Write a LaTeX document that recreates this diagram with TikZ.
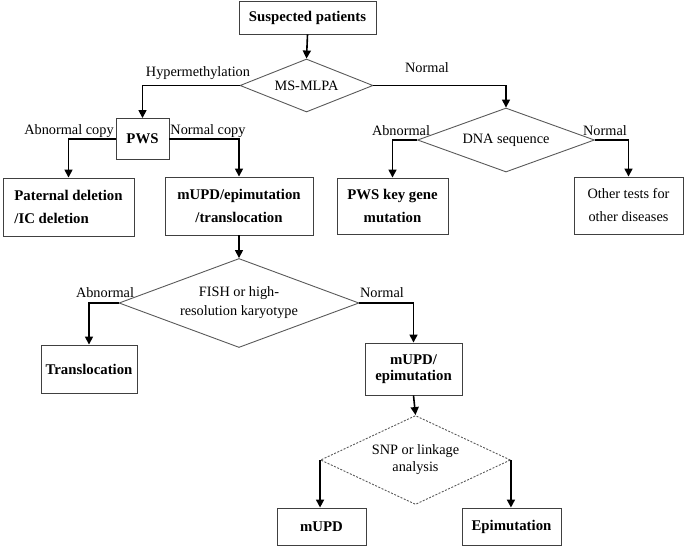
\documentclass[tikz,border=0pt]{standalone}
\usepackage{fontspec}
\setmainfont{Liberation Serif}
\usetikzlibrary{shapes.geometric,arrows.meta}
\begin{document}
\begin{tikzpicture}[x=1pt,y=-1pt,
  box/.style={draw=black!75,line width=0.9pt,rectangle,inner sep=0pt,align=center,font=\bfseries\fontsize{14.8}{23}\selectfont},
  rbox/.style={box,font=\fontsize{14.3}{23}\selectfont},
  dia/.style={draw=black!65,line width=0.9pt,diamond,inner sep=0pt,align=center,font=\fontsize{14.3}{19}\selectfont},
  conn/.style={line width=1.6pt,-{Triangle[length=8pt,width=8pt]}},
  lbl/.style={font=\fontsize{14.3}{15}\selectfont,inner sep=0pt}]
\useasboundingbox (0,0) rectangle (685,546);
% boxes
\node[box,minimum width=137pt,minimum height=33pt] (sp) at (307.5,17.5) {Suspected patients};
\node[dia,minimum width=133pt,minimum height=53pt,aspect=2.5] (ms) at (306.5,85.5) {MS-MLPA};
\node[box,minimum width=53pt,minimum height=41pt] (pws) at (142.5,139) {PWS};
\node[box,minimum width=131pt,minimum height=58pt,align=left] (pat) at (68.5,207) {Paternal deletion\\/IC deletion};
\node[box,minimum width=148pt,minimum height=58pt] (mt) at (239,206) {mUPD/epimutation\\/translocation};
\node[dia,minimum width=177pt,minimum height=64pt,aspect=2.75] (dna) at (506,140) {DNA sequence};
\node[box,minimum width=111pt,minimum height=56pt] (pkg) at (392.5,206) {PWS key gene\\mutation};
\node[rbox,minimum width=109pt,minimum height=57pt] (oth) at (628.5,205.5) {Other tests for\\other diseases};
\node[dia,minimum width=240pt,minimum height=89pt,aspect=2.7] (fish) at (239,303) {FISH or high-\\resolution karyotype};
\node[box,minimum width=96pt,minimum height=48pt] (tl) at (89,369) {Translocation};
\node[box,minimum width=97pt,minimum height=52pt,font=\bfseries\fontsize{14.8}{16}\selectfont] (me) at (413.5,369) {mUPD/\\epimutation};
\node[dia,dashed,dash pattern=on 2pt off 1.5pt,minimum width=190pt,minimum height=89pt,aspect=2.1,font=\fontsize{14.3}{17}\selectfont] (snp) at (415.5,460) {SNP or linkage\\analysis};
\node[box,minimum width=89pt,minimum height=37pt] (mupd) at (321.5,526.5) {mUPD};
\node[box,minimum width=99pt,minimum height=37pt] (epi) at (511.5,526.5) {Epimutation};
% connectors
\draw[conn] (sp.south) -- (ms.north);
\draw[conn] (ms.west) -| (pws.north);
\draw[conn] (ms.east) -| (dna.north);
\draw[conn] (pws.west) -| (pat.north);
\draw[conn] (pws.east) -| (mt.north);
\draw[conn] (dna.west) -| (pkg.north);
\draw[conn] (dna.east) -| (oth.north);
\draw[conn] (mt.south) -- (fish.north);
\draw[conn] (fish.west) -| (tl.north);
\draw[conn] (fish.east) -| (me.north);
\draw[conn] (me.south) -- (snp.north);
\draw[conn] (snp.west) -- (snp.west |- mupd.north);
\draw[conn] (snp.east) -- (snp.east |- epi.north);
% labels
\node[lbl] (l1) at (198,73) {Hypermethylation};
\node[lbl] (l2) at (427,68) {Normal};
\node[lbl] (l3) at (69,131) {Abnormal copy};
\node[lbl] (l4) at (208,131) {Normal copy};
\node[lbl] (l5) at (401,131) {Abnormal};
\node[lbl] (l6) at (605,131) {Normal};
\node[lbl] (l7) at (105,293) {Abnormal};
\node[lbl] (l8) at (382,293) {Normal};
\end{tikzpicture}
\end{document}
